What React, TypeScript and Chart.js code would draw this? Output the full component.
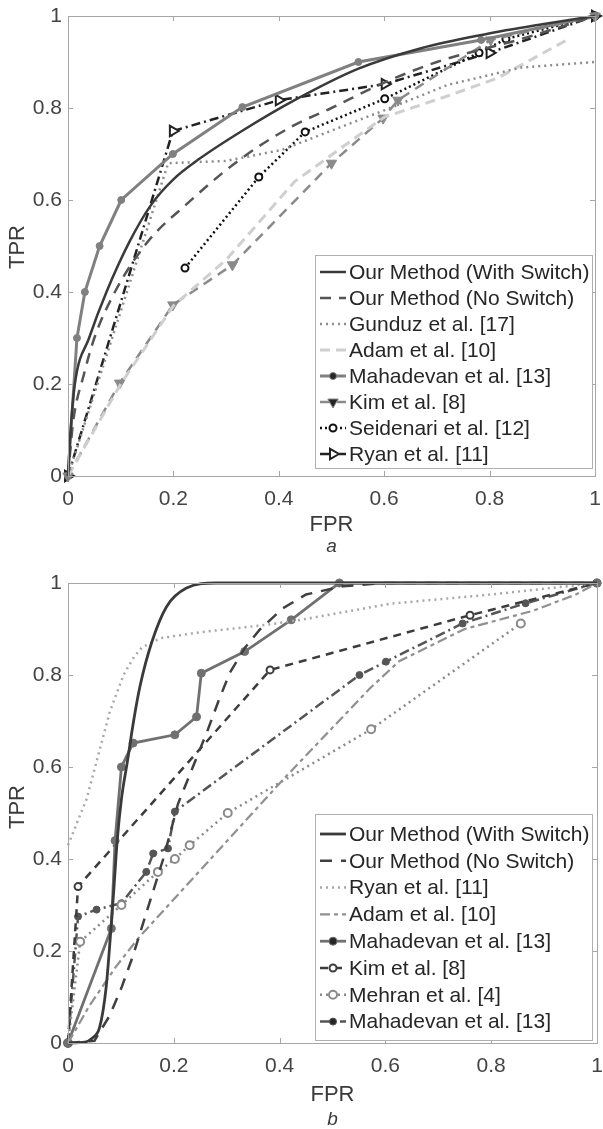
import React, { useEffect, useRef } from 'react';
import { Chart, registerables } from 'chart.js';

Chart.register(...registerables);

// ---------- shared axis ticks ----------
const TICK_VALUES = [0, 0.2, 0.4, 0.6, 0.8, 1];
const TICK_LABELS = ['0', '0.2', '0.4', '0.6', '0.8', '1'];
const X_TITLE = 'FPR';
const Y_TITLE = 'TPR';

// ---------- panel a ----------
const A_SUBTITLE = 'a';
const A_NAMES = [
  'Our Method (With Switch)',
  'Our Method (No Switch)',
  'Gunduz et al. [17]',
  'Adam et al. [10]',
  'Mahadevan et al. [13]',
  'Kim et al. [8]',
  'Seidenari et al. [12]',
  'Ryan et al. [11]',
];
const A_SWITCH_X = [0, 0.005, 0.013, 0.04, 0.073, 0.117, 0.158, 0.2, 0.25, 0.33, 0.43, 0.55, 0.67, 0.79, 0.9, 1];
const A_SWITCH_Y = [0, 0.1, 0.2, 0.3, 0.4, 0.51, 0.59, 0.645, 0.69, 0.75, 0.817, 0.885, 0.93, 0.96, 0.982, 1];
const A_NOSW_X = [0, 0.01, 0.03, 0.05, 0.089, 0.149, 0.224, 0.325, 0.425, 0.5, 0.6, 0.7, 0.86, 1];
const A_NOSW_Y = [0, 0.12, 0.22, 0.3, 0.4, 0.506, 0.59, 0.687, 0.76, 0.8, 0.855, 0.9, 0.95, 1];
const A_GUNDUZ_X = [0, 0.19, 0.3, 0.406, 0.532, 0.6, 0.72, 0.86, 1];
const A_GUNDUZ_Y = [0, 0.68, 0.685, 0.709, 0.765, 0.795, 0.85, 0.888, 0.9];
const A_ADAM_X = [0, 0.1, 0.2, 0.3, 0.43, 0.557, 0.6, 0.72, 0.815, 0.95];
const A_ADAM_Y = [0, 0.2, 0.37, 0.47, 0.64, 0.745, 0.78, 0.826, 0.865, 0.95];
const A_MAHA_X = [0, 0.017, 0.032, 0.06, 0.101, 0.199, 0.331, 0.551, 0.784, 1];
const A_MAHA_Y = [0, 0.3, 0.4, 0.5, 0.6, 0.7, 0.802, 0.9, 0.948, 1];
const A_KIM_X = [0, 0.098, 0.199, 0.312, 0.5, 0.598, 0.626, 0.802, 1];
const A_KIM_Y = [0, 0.202, 0.372, 0.459, 0.68, 0.778, 0.817, 0.948, 1];
const A_SEID_X = [0.222, 0.362, 0.45, 0.601, 0.78, 0.831, 1];
const A_SEID_Y = [0.452, 0.65, 0.748, 0.82, 0.92, 0.95, 1];
const A_RYAN_X = [0, 0.199, 0.4, 0.601, 0.8, 1];
const A_RYAN_Y = [0, 0.75, 0.817, 0.852, 0.92, 1];

// ---------- panel b ----------
const B_SUBTITLE = 'b';
const B_NAMES = [
  'Our Method (With Switch)',
  'Our Method (No Switch)',
  'Ryan et al. [11]',
  'Adam et al. [10]',
  'Mahadevan et al. [13]',
  'Kim et al. [8]',
  'Mehran et al. [4]',
  'Mahadevan et al. [13]',
];
const B_SWITCH_X = [0, 0.032, 0.045, 0.06, 0.072, 0.08, 0.087, 0.093, 0.101, 0.112, 0.124, 0.136, 0.158, 0.186, 0.224, 0.28, 0.4, 1];
const B_SWITCH_Y = [0, 0.002, 0.01, 0.035, 0.12, 0.23, 0.34, 0.44, 0.53, 0.61, 0.7, 0.775, 0.87, 0.948, 0.989, 1, 1, 1];
const B_NOSW_X = [0, 0.05, 0.079, 0.101, 0.123, 0.15, 0.18, 0.208, 0.236, 0.264, 0.285, 0.306, 0.335, 0.362, 0.406, 0.45, 0.52, 0.6, 1];
const B_NOSW_Y = [0, 0.005, 0.06, 0.12, 0.19, 0.29, 0.4, 0.52, 0.6, 0.68, 0.745, 0.805, 0.86, 0.898, 0.945, 0.975, 0.993, 1, 1];
const B_RYAN_X = [0, 0.035, 0.079, 0.105, 0.125, 0.14, 0.175, 0.25, 0.375, 0.44, 0.61, 0.8, 1];
const B_RYAN_Y = [0.43, 0.53, 0.72, 0.8, 0.84, 0.86, 0.88, 0.893, 0.909, 0.92, 0.955, 0.975, 1];
const B_ADAM_X = [0, 0.04, 0.09, 0.133, 0.406, 0.57, 0.626, 0.75, 0.88, 0.96, 1];
const B_ADAM_Y = [0, 0.08, 0.165, 0.228, 0.572, 0.77, 0.83, 0.9, 0.94, 0.975, 1];
const B_MAHA_X = [0, 0.082, 0.089, 0.101, 0.123, 0.202, 0.243, 0.252, 0.334, 0.422, 0.513, 1];
const B_MAHA_Y = [0, 0.249, 0.44, 0.6, 0.652, 0.67, 0.709, 0.804, 0.851, 0.92, 1, 1];
const B_KIM_X = [0, 0.019, 0.382, 0.76, 1];
const B_KIM_Y = [0, 0.34, 0.811, 0.93, 1];
const B_MEHRAN_X = [0, 0.023, 0.101, 0.17, 0.202, 0.23, 0.302, 0.573, 0.856];
const B_MEHRAN_Y = [0, 0.22, 0.3, 0.372, 0.4, 0.43, 0.5, 0.682, 0.912];
const B_MAHA2_X = [0, 0.019, 0.054, 0.101, 0.148, 0.161, 0.189, 0.202, 0.551, 0.601, 0.746, 0.865, 1];
const B_MAHA2_Y = [0, 0.275, 0.29, 0.304, 0.372, 0.412, 0.423, 0.503, 0.8, 0.829, 0.912, 0.956, 1];

// ---------- styles ----------
type Style = {
  color: string;
  width: number;
  dash?: number[];
  marker?: 'circle' | 'triangle';
  size?: number;
  rot?: number;
  fill?: string;
  mw?: number;
  smooth?: boolean;
};

const A_STYLES: Style[] = [
  { color: '#3a3a3a', width: 2.5, smooth: true },
  { color: '#555555', width: 2.5, dash: [11, 8], smooth: true },
  { color: '#8c8c8c', width: 2.5, dash: [2, 4] },
  { color: '#cfcfcf', width: 3, dash: [10, 6] },
  { color: '#808080', width: 3, marker: 'circle', size: 3.5 },
  { color: '#8a8a8a', width: 2.5, dash: [10, 7], marker: 'triangle', size: 6, rot: 180 },
  { color: '#111111', width: 2.5, dash: [2, 3], marker: 'circle', size: 3.5, fill: '#ffffff', mw: 2 },
  { color: '#222222', width: 2.5, dash: [9, 4, 2, 4], marker: 'triangle', size: 6, rot: 90, fill: '#ffffff', mw: 2 },
];

const B_STYLES: Style[] = [
  { color: '#3a3a3a', width: 2.8, smooth: true },
  { color: '#404040', width: 2.5, dash: [12, 9] },
  { color: '#a8a8a8', width: 2.5, dash: [2, 4] },
  { color: '#909090', width: 2.2, dash: [10, 4, 4, 4] },
  { color: '#707070', width: 2.8, marker: 'circle', size: 4 },
  { color: '#3c3c3c', width: 2.5, dash: [8, 6], marker: 'circle', size: 3.5, fill: '#ffffff', mw: 2 },
  { color: '#8a8a8a', width: 2.5, dash: [2, 4], marker: 'circle', size: 4, fill: '#ffffff', mw: 2 },
  { color: '#555555', width: 2.5, dash: [10, 4, 2, 4], marker: 'circle', size: 3.5 },
];

const A_SERIES: [number[], number[]][] = [
  [A_SWITCH_X, A_SWITCH_Y],
  [A_NOSW_X, A_NOSW_Y],
  [A_GUNDUZ_X, A_GUNDUZ_Y],
  [A_ADAM_X, A_ADAM_Y],
  [A_MAHA_X, A_MAHA_Y],
  [A_KIM_X, A_KIM_Y],
  [A_SEID_X, A_SEID_Y],
  [A_RYAN_X, A_RYAN_Y],
];
const B_SERIES: [number[], number[]][] = [
  [B_SWITCH_X, B_SWITCH_Y],
  [B_NOSW_X, B_NOSW_Y],
  [B_RYAN_X, B_RYAN_Y],
  [B_ADAM_X, B_ADAM_Y],
  [B_MAHA_X, B_MAHA_Y],
  [B_KIM_X, B_KIM_Y],
  [B_MEHRAN_X, B_MEHRAN_Y],
  [B_MAHA2_X, B_MAHA2_Y],
];

const FONT = '"Liberation Sans", Arial, Helvetica, sans-serif';
const AXIS_COLOR = '#a6a6a6';
const TEXT_COLOR = '#3a3a3a';

type Layout = {
  height: number;
  plotTop: number;
  plotBottom: number;
  fprY: number;
  subY: number;
  tprX: number;
  tprY: number;
  legend: { x: number; y: number; w: number; h: number; first: number; step: number };
};

const A_LAYOUT: Layout = {
  height: 560,
  plotTop: 16,
  plotBottom: 476,
  fprY: 525,
  subY: 547,
  tprX: 18,
  tprY: 247,
  legend: { x: 315, y: 255, w: 277, h: 213, first: 272, step: 26 },
};
const B_LAYOUT: Layout = {
  height: 569,
  plotTop: 23,
  plotBottom: 483,
  fprY: 535,
  subY: 560,
  tprX: 18,
  tprY: 247,
  legend: { x: 315, y: 254, w: 277, h: 226, first: 274, step: 26.8 },
};

function drawMarker(ctx: CanvasRenderingContext2D, st: Style, x: number, y: number) {
  if (!st.marker) return;
  const r = st.size || 3;
  ctx.save();
  ctx.setLineDash([]);
  ctx.beginPath();
  if (st.marker === 'circle') {
    ctx.arc(x, y, r, 0, Math.PI * 2);
  } else {
    let rad = ((st.rot || 0) * Math.PI) / 180;
    for (let k = 0; k < 3; k++) {
      const px = x + Math.sin(rad) * r;
      const py = y - Math.cos(rad) * r;
      if (k === 0) ctx.moveTo(px, py);
      else ctx.lineTo(px, py);
      rad += (2 * Math.PI) / 3;
    }
    ctx.closePath();
  }
  ctx.fillStyle = st.fill || st.color;
  ctx.fill();
  ctx.lineWidth = st.mw || 1;
  ctx.strokeStyle = st.color;
  ctx.stroke();
  ctx.restore();
}

const decorPlugin = {
  id: 'matlabDecor',
  afterDraw(chart: any, _args: any, opts: any) {
    const ctx: CanvasRenderingContext2D = chart.ctx;
    const { left, right, top, bottom } = chart.chartArea;
    const xs = chart.scales.x;
    const ys = chart.scales.y;
    const lay: Layout = opts.layout;
    const names: string[] = opts.names;
    const styles: Style[] = opts.styles;
    ctx.save();
    // frame
    ctx.strokeStyle = AXIS_COLOR;
    ctx.lineWidth = 1;
    ctx.setLineDash([]);
    ctx.strokeRect(Math.round(left) + 0.5, Math.round(top) + 0.5, Math.round(right - left), Math.round(bottom - top));
    // inward ticks on all sides
    const tl = 5;
    ctx.beginPath();
    TICK_VALUES.forEach((v) => {
      const px = Math.round(xs.getPixelForValue(v)) + 0.5;
      ctx.moveTo(px, bottom);
      ctx.lineTo(px, bottom - tl);
      ctx.moveTo(px, top);
      ctx.lineTo(px, top + tl);
      const py = Math.round(ys.getPixelForValue(v)) + 0.5;
      ctx.moveTo(left, py);
      ctx.lineTo(left + tl, py);
      ctx.moveTo(right, py);
      ctx.lineTo(right - tl, py);
    });
    ctx.stroke();

    // axis titles
    ctx.fillStyle = TEXT_COLOR;
    ctx.font = `22px ${FONT}`;
    ctx.textAlign = 'center';
    ctx.textBaseline = 'middle';
    ctx.fillText(X_TITLE, (left + right) / 2, lay.fprY);
    ctx.save();
    ctx.translate(lay.tprX, lay.tprY);
    ctx.rotate(-Math.PI / 2);
    ctx.fillText(Y_TITLE, 0, 0);
    ctx.restore();
    ctx.font = `italic 19px ${FONT}`;
    ctx.fillText(opts.subtitle, (left + right) / 2, lay.subY);

    // legend box
    const L = lay.legend;
    ctx.fillStyle = '#ffffff';
    ctx.fillRect(L.x, L.y, L.w, L.h);
    ctx.strokeStyle = '#b0b0b0';
    ctx.lineWidth = 1;
    ctx.strokeRect(L.x + 0.5, L.y + 0.5, L.w, L.h);
    names.forEach((name, i) => {
      const st = styles[i];
      const cy = L.first + i * L.step;
      ctx.save();
      ctx.strokeStyle = st.color;
      ctx.lineWidth = st.width;
      ctx.setLineDash(st.dash || []);
      ctx.beginPath();
      ctx.moveTo(L.x + 5, cy);
      ctx.lineTo(L.x + 31, cy);
      ctx.stroke();
      ctx.restore();
      drawMarker(ctx, st, L.x + 18, cy);
      ctx.fillStyle = '#262626';
      ctx.font = `21px ${FONT}`;
      ctx.textAlign = 'left';
      ctx.textBaseline = 'middle';
      ctx.fillText(name, L.x + 34, cy + 1);
    });
    ctx.restore();
  },
};

function buildConfig(names: string[], series: [number[], number[]][], styles: Style[], lay: Layout, subtitle: string) {
  const datasets = series.map(([xsArr, ysArr], i) => {
    const st = styles[i];
    return {
      label: names[i],
      data: xsArr.map((x, k) => ({ x, y: ysArr[k] })),
      showLine: true,
      borderColor: st.color,
      backgroundColor: st.color,
      borderWidth: st.width,
      borderDash: st.dash || [],
      pointRadius: st.marker ? st.size : 0,
      pointStyle: st.marker || 'circle',
      rotation: st.rot || 0,
      pointBackgroundColor: st.fill || st.color,
      pointBorderColor: st.color,
      pointBorderWidth: st.mw || 1,
      cubicInterpolationMode: st.smooth ? 'monotone' : 'default',
      tension: 0,
      clip: false as any,
    };
  });
  const tickFont = { family: FONT, size: 21 };
  return {
    type: 'scatter' as const,
    data: { datasets },
    plugins: [decorPlugin],
    options: {
      responsive: false,
      animation: false as const,
      devicePixelRatio: 1,
      events: [] as any[],
      layout: { padding: { top: lay.plotTop, left: 8, right: 5, bottom: 0 } },
      plugins: {
        legend: { display: false },
        tooltip: { enabled: false },
        matlabDecor: { layout: lay, names, styles, subtitle },
      },
      scales: {
        x: {
          type: 'linear',
          min: 0,
          max: 1,
          grid: { display: false, drawTicks: false },
          border: { display: false },
          afterBuildTicks: (s: any) => {
            s.ticks = TICK_VALUES.map((v) => ({ value: v }));
          },
          afterFit: (s: any) => {
            s.height = lay.height - lay.plotBottom;
            s.paddingLeft = 0;
            s.paddingRight = 0;
          },
          ticks: {
            font: tickFont,
            color: '#444444',
            padding: 11,
            maxRotation: 0,
            autoSkip: false,
            callback: (_v: any, i: number) => TICK_LABELS[i],
          },
        },
        y: {
          type: 'linear',
          min: 0,
          max: 1,
          grid: { display: false, drawTicks: false },
          border: { display: false },
          afterBuildTicks: (s: any) => {
            s.ticks = TICK_VALUES.map((v) => ({ value: v }));
          },
          afterFit: (s: any) => {
            s.width = 60;
            s.paddingTop = 0;
            s.paddingBottom = 0;
          },
          ticks: {
            font: tickFont,
            color: '#444444',
            padding: 6,
            autoSkip: false,
            callback: (_v: any, i: number) => TICK_LABELS[i],
          },
        },
      },
    },
  };
}

function Panel(props: { names: string[]; series: [number[], number[]][]; styles: Style[]; lay: Layout; subtitle: string; top: number }) {
  const ref = useRef<HTMLCanvasElement | null>(null);
  useEffect(() => {
    if (!ref.current) return;
    const chart = new Chart(ref.current, buildConfig(props.names, props.series, props.styles, props.lay, props.subtitle) as any);
    return () => chart.destroy();
  }, []);
  return (
    <canvas
      ref={ref}
      width={603}
      height={props.lay.height}
      style={{ position: 'absolute', left: 0, top: props.top, width: 603, height: props.lay.height, display: 'block' }}
    />
  );
}

export default function App() {
  return (
    <div style={{ position: 'absolute', left: 0, top: 0, width: 603, height: 1129, background: '#ffffff' }}>
      <Panel names={A_NAMES} series={A_SERIES} styles={A_STYLES} lay={A_LAYOUT} subtitle={A_SUBTITLE} top={0} />
      <Panel names={B_NAMES} series={B_SERIES} styles={B_STYLES} lay={B_LAYOUT} subtitle={B_SUBTITLE} top={560} />
    </div>
  );
}
